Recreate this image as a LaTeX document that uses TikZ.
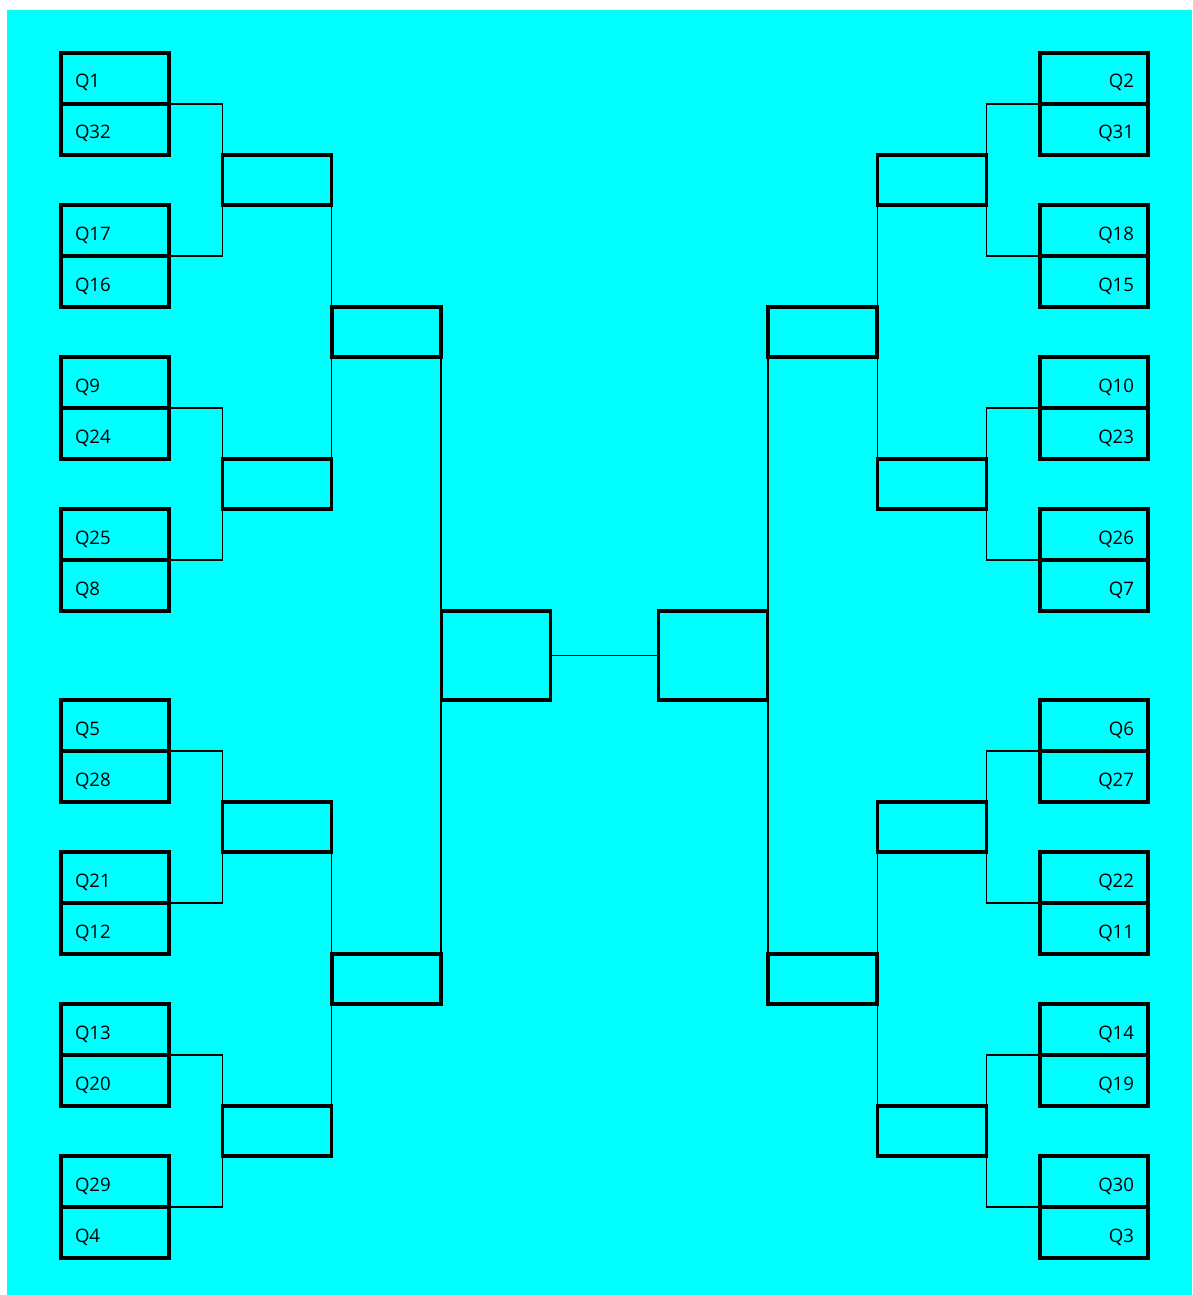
\documentclass[tikz,border=0pt]{standalone}
\usepackage{fontspec}
\setmainfont{Open Sans}
\usetikzlibrary{positioning}
\definecolor{BrCyan}{HTML}{00FFFF}

\tikzset{
  slot/.style={draw,line width=3.2pt,inner sep=0pt,outer sep=0pt,
    minimum height=51pt},
  qleft/.style={slot,minimum width=108pt,text width=80pt,inner xsep=14pt,
    align=left,font=\fontsize{18.6}{20}\selectfont,text height=19pt,text depth=0pt},
  qright/.style={qleft,align=right},
  win/.style={slot,minimum width=109pt,minimum height=50pt},
  final/.style={slot,minimum width=109pt,minimum height=89pt},
  wire/.style={line width=1.8pt}
}

\begin{document}
\begin{tikzpicture}[x=1pt,y=-1pt]
\path[use as bounding box] (0,0) rectangle (1192,1295);
\fill[BrCyan] (7,10) rectangle (1192,1295);
% left half, first round
\node[qleft] (q1) at (115,78.5) {Q1};
\node[qleft,below=0pt of q1] (q32) {Q32};
\node[qleft] (q17) at (115,230.5) {Q17};
\node[qleft,below=0pt of q17] (q16) {Q16};
\node[qleft] (q9) at (115,382.5) {Q9};
\node[qleft,below=0pt of q9] (q24) {Q24};
\node[qleft] (q25) at (115,534.5) {Q25};
\node[qleft,below=0pt of q25] (q8) {Q8};
\node[qleft] (q5) at (115,725.5) {Q5};
\node[qleft,below=0pt of q5] (q28) {Q28};
\node[qleft] (q21) at (115,877.5) {Q21};
\node[qleft,below=0pt of q21] (q12) {Q12};
\node[qleft] (q13) at (115,1029.5) {Q13};
\node[qleft,below=0pt of q13] (q20) {Q20};
\node[qleft] (q29) at (115,1181.5) {Q29};
\node[qleft,below=0pt of q29] (q4) {Q4};
% right half, first round
\node[qright] (q2) at (1094,78.5) {Q2};
\node[qright,below=0pt of q2] (q31) {Q31};
\node[qright] (q18) at (1094,230.5) {Q18};
\node[qright,below=0pt of q18] (q15) {Q15};
\node[qright] (q10) at (1094,382.5) {Q10};
\node[qright,below=0pt of q10] (q23) {Q23};
\node[qright] (q26) at (1094,534.5) {Q26};
\node[qright,below=0pt of q26] (q7) {Q7};
\node[qright] (q6) at (1094,725.5) {Q6};
\node[qright,below=0pt of q6] (q27) {Q27};
\node[qright] (q22) at (1094,877.5) {Q22};
\node[qright,below=0pt of q22] (q11) {Q11};
\node[qright] (q14) at (1094,1029.5) {Q14};
\node[qright,below=0pt of q14] (q19) {Q19};
\node[qright] (q30) at (1094,1181.5) {Q30};
\node[qright,below=0pt of q30] (q3) {Q3};
% later rounds
\node[win] (la1) at (277,180) {};
\node[win] (la2) at (277,484) {};
\node[win] (la3) at (277,827) {};
\node[win] (la4) at (277,1131) {};
\node[win] (ra1) at (932,180) {};
\node[win] (ra2) at (932,484) {};
\node[win] (ra3) at (932,827) {};
\node[win] (ra4) at (932,1131) {};
\node[win] (lb1) at (386.5,332) {};
\node[win] (lb2) at (386.5,979) {};
\node[win] (rb1) at (822.5,332) {};
\node[win] (rb2) at (822.5,979) {};
\node[final] (lc) at (496,655.5) {};
\node[final] (rc) at (713,655.5) {};
% brackets
\draw[wire] (q1.south east) -| (la1.west) |- (q17.south east);
\draw[wire] (q9.south east) -| (la2.west) |- (q25.south east);
\draw[wire] (q5.south east) -| (la3.west) |- (q21.south east);
\draw[wire] (q13.south east) -| (la4.west) |- (q29.south east);
\draw[wire] (q2.south west) -| (ra1.east) |- (q18.south west);
\draw[wire] (q10.south west) -| (ra2.east) |- (q26.south west);
\draw[wire] (q6.south west) -| (ra3.east) |- (q22.south west);
\draw[wire] (q14.south west) -| (ra4.east) |- (q30.south west);
\draw[wire] (la1.east) -- (la2.east);
\draw[wire] (la3.east) -- (la4.east);
\draw[wire] (ra1.west) -- (ra2.west);
\draw[wire] (ra3.west) -- (ra4.west);
\draw[wire] (lb1.east) -- (lb2.east);
\draw[wire] (rb1.west) -- (rb2.west);
\draw[wire] (lc.east) -- (rc.west);
\end{tikzpicture}
\end{document}
